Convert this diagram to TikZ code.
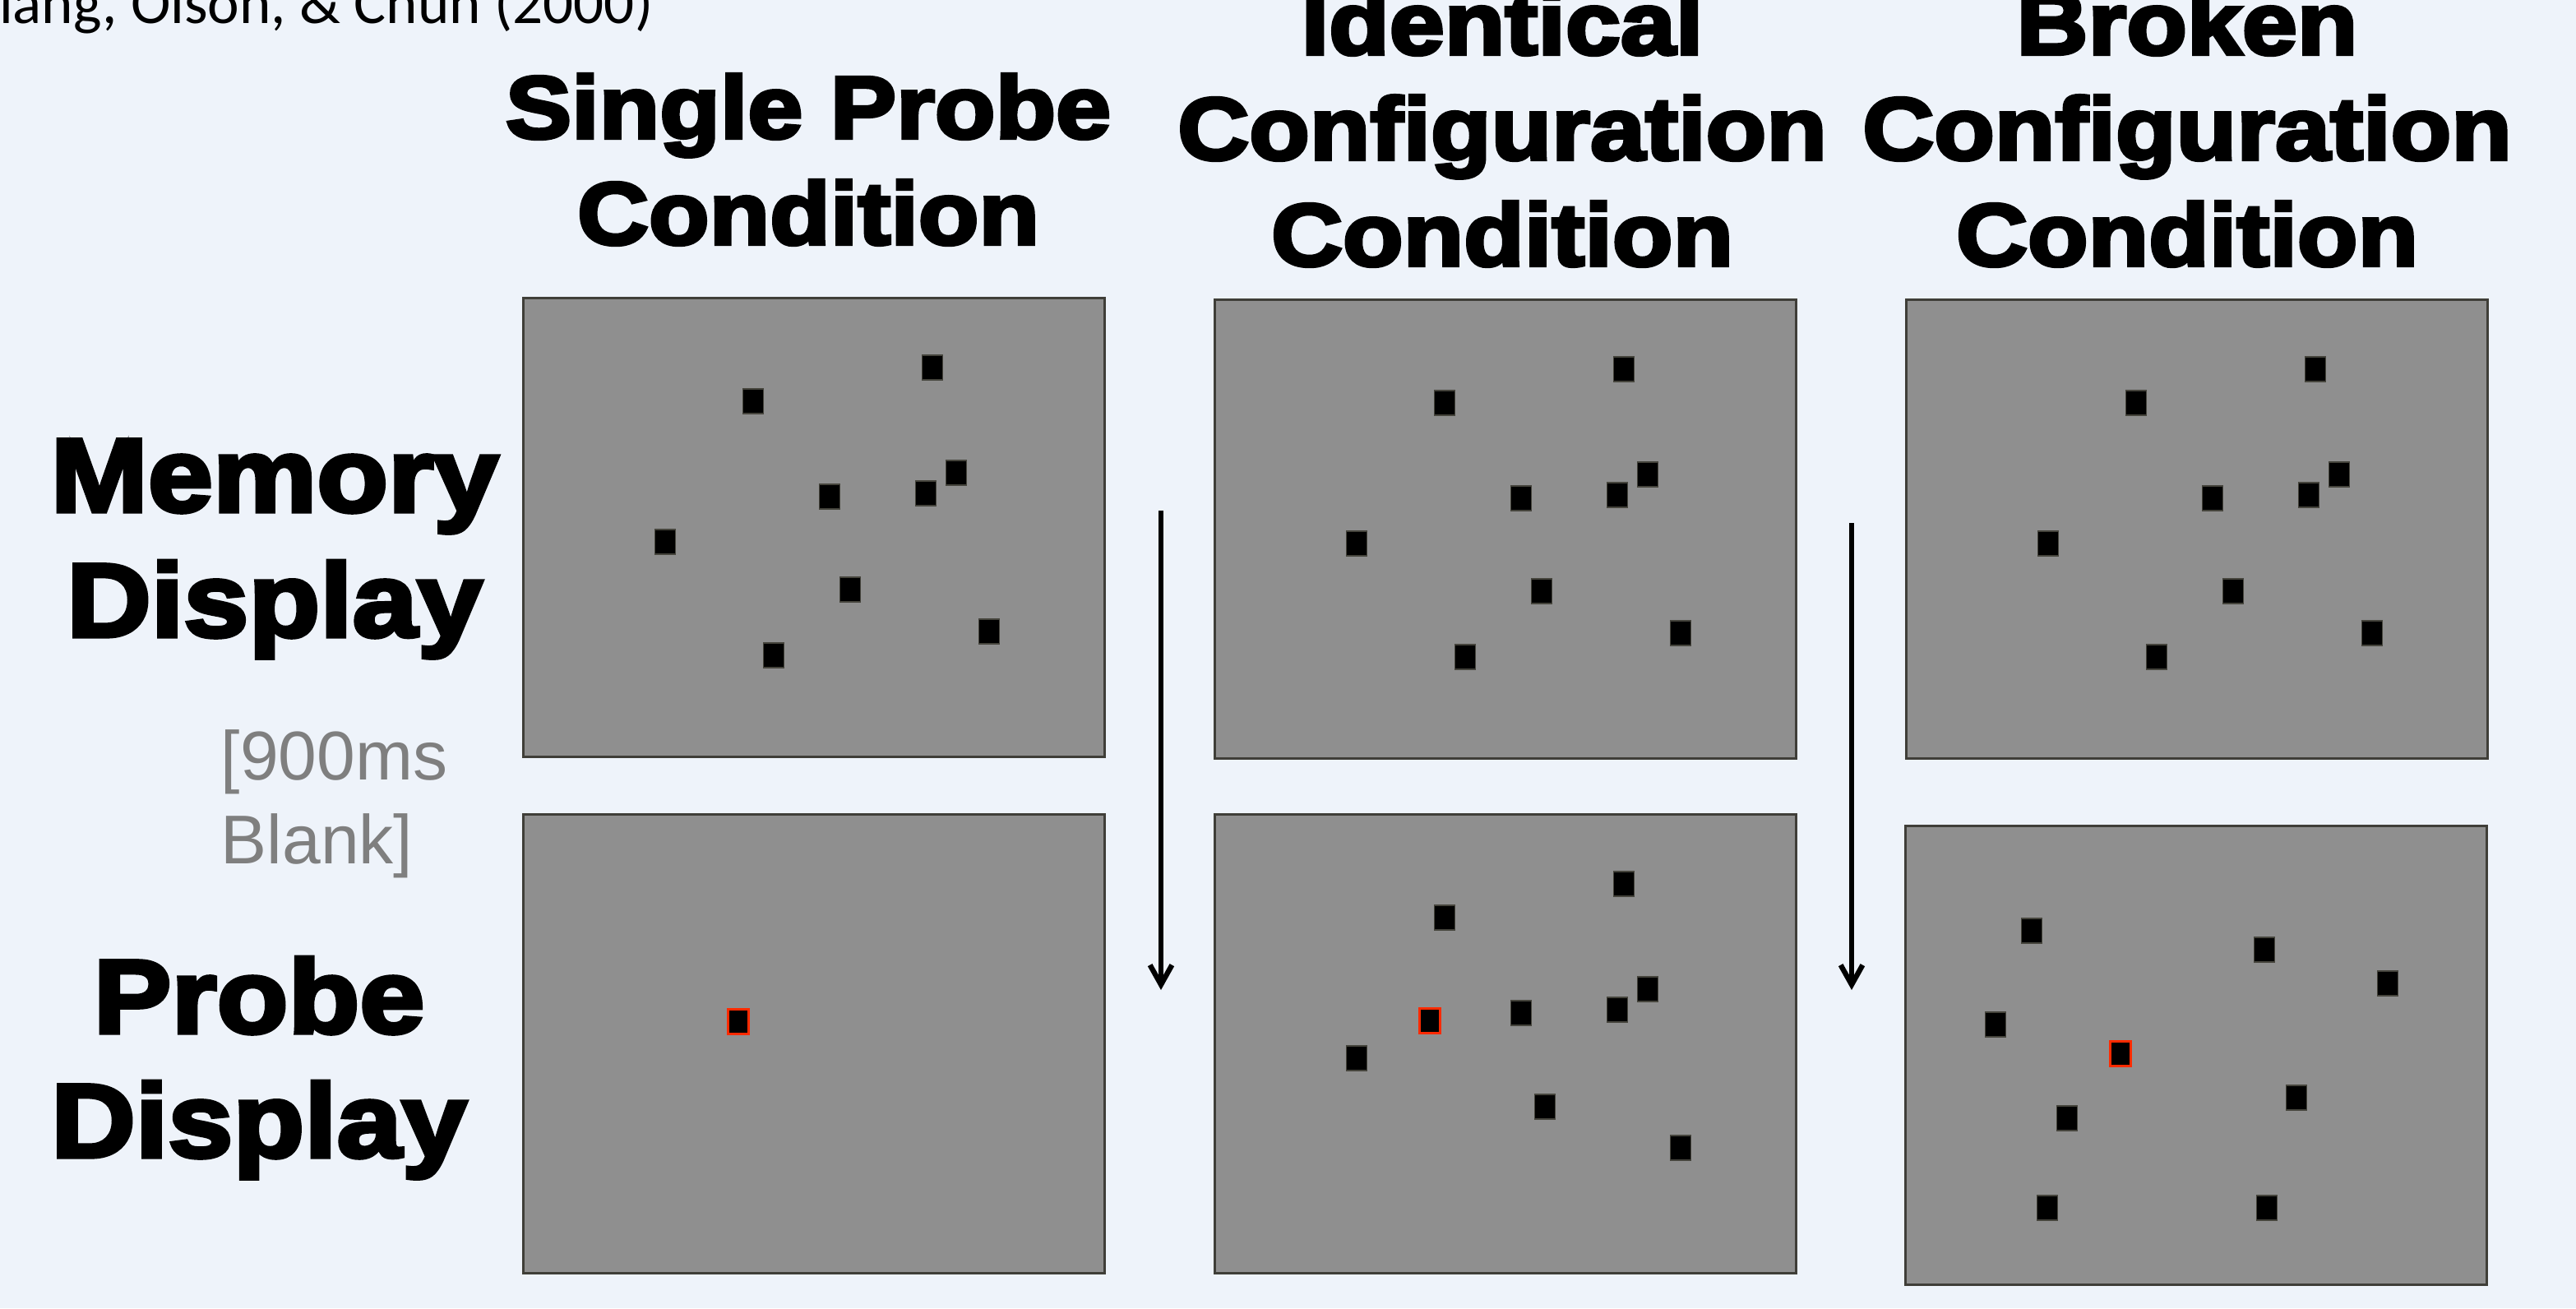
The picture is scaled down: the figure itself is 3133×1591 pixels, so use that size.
\documentclass[tikz,border=0pt]{standalone}
\usepackage{fontspec}
\setmainfont{Liberation Sans}
\newfontfamily\heavy[FakeStretch=1.12,FakeBold=4]{Liberation Sans Bold}
\newfontfamily\cali{Carlito}
\usetikzlibrary{arrows.meta}
\definecolor{bgc}{HTML}{EEF3FA}
\definecolor{panelc}{HTML}{8F8F8F}
\definecolor{edgec}{HTML}{3F3E38}
\definecolor{sqedge}{HTML}{45443C}
\definecolor{probec}{HTML}{FF2A00}
\definecolor{blankc}{HTML}{7F7F7F}
\newcommand\mysq[2]{\draw[stimsq] (#1,#2) ++(-12.5,-15) rectangle ++(25,30);}
\newcommand\myprobe[2]{\draw[probesq] (#1,#2) ++(-12.5,-15) rectangle ++(25,30);}
\newcommand\memset{%
  \mysq{498}{85}\mysq{280}{126}\mysq{527}{213}\mysq{373}{242}\mysq{490}{238}%
  \mysq{173}{297}\mysq{398}{355}\mysq{567}{406}\mysq{305}{435}}
\tikzset{
  panel/.style={fill=panelc,draw=edgec,line width=0.85pt},
  stimsq/.style={fill=black,draw=sqedge,line width=0.45pt},
  probesq/.style={fill=black,draw=probec,line width=0.85pt},
  titletext/.style={anchor=base,inner sep=0pt,font=\heavy\fontsize{30.6}{36.6}\selectfont},
  rowtext/.style={anchor=base,inner sep=0pt,font=\heavy\fontsize{36.1}{43.2}\selectfont},
  blanktext/.style={anchor=base west,inner sep=0pt,text=blankc,font=\fontsize{23.9}{29}\selectfont},
  flow/.style={line width=1.8pt,-{Straight Barb[length=6.8pt,width=7.6pt]}}
}
\begin{document}
\begin{tikzpicture}[x=0.1mm,y=-0.1mm]
\useasboundingbox (0,0) rectangle (3133,1591);
\clip (0,0) rectangle (3133,1591);
\fill[bgc] (0,0) rectangle (3133,1591);

% citation
\node[anchor=base west,inner sep=0pt,font=\cali\fontsize{20.8}{25}\selectfont] (cite) at (-25,28) {Jiang, Olson, \& Chun (2000)};

% column titles
\node[titletext] (t1a) at (983,168) {Single Probe};
\node[titletext] (t1b) at (983,297) {Condition};
\node[titletext] (t2a) at (1827,66) {Identical};
\node[titletext] (t2b) at (1827,194) {Configuration};
\node[titletext] (t2c) at (1827,323) {Condition};
\node[titletext] (t3a) at (2660,66) {Broken};
\node[titletext] (t3b) at (2660,194) {Configuration};
\node[titletext] (t3c) at (2660,323) {Condition};

% row labels
\node[rowtext] (r1a) at (334,622) {Memory};
\node[rowtext] (r1b) at (334,774) {Display};
\node[rowtext] (r2a) at (315,1256) {Probe};
\node[rowtext] (r2b) at (315,1407) {Display};
\node[blanktext] (bl1) at (268,948) {[900ms};
\node[blanktext] (bl2) at (268,1050) {Blank]};

% panel A1
\begin{scope}[shift={(636,362)}]
  \draw[panel] (0,0) rectangle (707,558);
  \memset
\end{scope}
% panel B1
\begin{scope}[shift={(1477,364)}]
  \draw[panel] (0,0) rectangle (707,558);
  \memset
\end{scope}
% panel C1
\begin{scope}[shift={(2318,364)}]
  \draw[panel] (0,0) rectangle (707,558);
  \memset
\end{scope}
% panel A2
\begin{scope}[shift={(636,990)}]
  \draw[panel] (0,0) rectangle (707,558);
  \myprobe{262}{252}
\end{scope}
% panel B2
\begin{scope}[shift={(1477,990)}]
  \draw[panel] (0,0) rectangle (707,558);
  \mysq{498}{85}\mysq{280}{126}\mysq{527}{213}\mysq{373}{242}\mysq{490}{238}
  \mysq{173}{297}\mysq{402}{356}\mysq{567}{406}
  \myprobe{262}{251}
\end{scope}
% panel C2
\begin{scope}[shift={(2317,1004)}]
  \draw[panel] (0,0) rectangle (707,558);
  \mysq{154}{128}\mysq{437}{151}\mysq{587}{192}\mysq{110}{242}
  \mysq{476}{331}\mysq{197}{356}\mysq{173}{465}\mysq{440}{465}
  \myprobe{262}{277}
\end{scope}

% arrows
\coordinate (a1s) at (1412,621);
\coordinate (a1e) at (1412,1204);
\coordinate (a2s) at (2252,636);
\coordinate (a2e) at (2252,1204);
\draw[flow] (a1s) -- (a1e);
\draw[flow] (a2s) -- (a2e);
\end{tikzpicture}
\end{document}
